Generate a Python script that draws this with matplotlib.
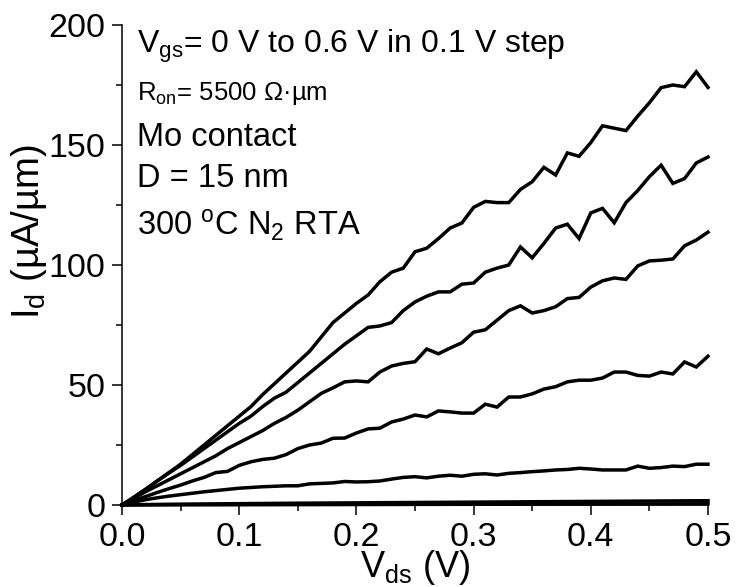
import matplotlib
matplotlib.use("Agg")
import matplotlib.pyplot as plt
from matplotlib.ticker import MultipleLocator

plt.rcParams['font.family'] = ['Liberation Sans', 'DejaVu Sans']
plt.rcParams['mathtext.fontset'] = 'custom'
plt.rcParams['mathtext.rm'] = 'Liberation Sans'
plt.rcParams['mathtext.it'] = 'Liberation Sans:italic'
plt.rcParams['mathtext.default'] = 'regular'

vds = [0.00, 0.01, 0.02, 0.03, 0.04, 0.05, 0.06, 0.07, 0.08, 0.09,
       0.10, 0.11, 0.12, 0.13, 0.14, 0.15, 0.16, 0.17, 0.18, 0.19,
       0.20, 0.21, 0.22, 0.23, 0.24, 0.25, 0.26, 0.27, 0.28, 0.29,
       0.30, 0.31, 0.32, 0.33, 0.34, 0.35, 0.36, 0.37, 0.38, 0.39,
       0.40, 0.41, 0.42, 0.43, 0.44, 0.45, 0.46, 0.47, 0.48, 0.49,
       0.50]

id_vg06 = [0, 3.2, 6.5, 10, 13.5, 17, 21, 25, 29, 33,
           37, 41, 46, 50.5, 55, 59.5, 64, 70, 76, 80,
           84, 87.5, 93, 97, 98.7, 105.5, 107, 111, 115.4, 117.5,
           124, 126.5, 126, 126, 131.5, 134.7, 140.7, 137.5, 146.7, 145.3,
           151, 158, 157, 156, 162, 167.6, 173.9, 175, 174.3, 180.5,
           174]

id_vg05 = [0, 3.2, 6.5, 10, 13.3, 16.5, 20, 23.5, 27, 30.5,
           34, 37, 41, 44.5, 47, 51, 55, 59, 63, 67,
           70.5, 74, 74.6, 76, 81, 84.6, 87, 88.8, 88.8, 92,
           92.5, 97, 98.7, 100, 107.5, 103, 109, 115.4, 117, 111,
           121.7, 123.6, 117.6, 126, 131, 136.8, 141.6, 134, 136, 142.5,
           145]

id_vg04 = [0, 2.8, 5.5, 8, 10.5, 13, 15.5, 18, 20.5, 23.5,
           26, 28.5, 31, 34, 36.5, 39.5, 43, 46.5, 48.8, 51.3,
           51.7, 51.3, 55.4, 57.9, 59, 59.7, 65, 63, 65.4, 67.6,
           72, 73, 77, 81, 83, 80, 81, 82.6, 86, 86.5,
           90.8, 93.4, 94.6, 94, 99.6, 101.7, 102, 102.5, 108, 110.4,
           113.7]

id_vg03 = [0, 1.8, 3.5, 5.2, 6.8, 8.3, 10, 11.5, 13.5, 14,
           16.5, 18, 19, 19.5, 21, 23.5, 25, 25.8, 27.8, 27.9,
           30, 31.7, 32, 34.6, 35.8, 37.5, 36.7, 39.2, 38.8, 38.3,
           38.3, 42, 40.8, 45, 45, 46.3, 48.3, 49.3, 51.3, 52,
           52, 52.9, 55.4, 55.4, 54, 53.7, 55.4, 54.6, 59.6, 57.5,
           62]

id_vg02 = [0, 1.2, 2.2, 3, 3.7, 4.3, 4.9, 5.5, 6, 6.5,
           7, 7.3, 7.6, 7.8, 8, 8, 8.8, 9, 9.2, 9.8,
           9.6, 9.7, 10, 10.8, 11.5, 11.8, 11.3, 12, 12.4, 12,
           12.8, 13, 12.5, 13.2, 13.5, 13.9, 14.2, 14.6, 14.8, 15.3,
           15, 14.6, 14.6, 14.6, 16.2, 15.3, 15.6, 16.2, 16, 17,
           17]

id_vg01 = [0, 0.1, 0.18, 0.25, 0.3, 0.35, 0.4, 0.44, 0.48, 0.52,
           0.56, 0.6, 0.64, 0.68, 0.72, 0.75, 0.78, 0.81, 0.84, 0.87,
           0.9, 0.93, 0.96, 0.99, 1.02, 1.05, 1.08, 1.11, 1.14, 1.17,
           1.2, 1.23, 1.26, 1.29, 1.32, 1.35, 1.38, 1.41, 1.44, 1.47,
           1.5, 1.53, 1.56, 1.59, 1.62, 1.65, 1.68, 1.71, 1.74, 1.77,
           1.8]

id_vg00 = [0, 0.01, 0.02, 0.03, 0.04, 0.05, 0.06, 0.07, 0.08, 0.09,
           0.1, 0.11, 0.12, 0.13, 0.14, 0.15, 0.16, 0.17, 0.18, 0.19,
           0.2, 0.21, 0.22, 0.23, 0.24, 0.25, 0.26, 0.27, 0.28, 0.29,
           0.3, 0.31, 0.32, 0.33, 0.34, 0.35, 0.36, 0.37, 0.38, 0.39,
           0.4, 0.41, 0.42, 0.43, 0.44, 0.45, 0.46, 0.47, 0.48, 0.49,
           0.5]

curves = [id_vg00, id_vg01, id_vg02, id_vg03, id_vg04, id_vg05, id_vg06]

x_ticks = [0.0, 0.1, 0.2, 0.3, 0.4, 0.5]
x_ticklabels = ['0.0', '0.1', '0.2', '0.3', '0.4', '0.5']
y_ticks = [0, 50, 100, 150, 200]
y_ticklabels = ['0', '50', '100', '150', '200']

annotations = [
    ("V$_{\\mathrm{gs}}$= 0 V to 0.6 V in 0.1 V step", 23),
    ("R$_{\\mathrm{on}}$= 5500 \u03a9\u00b7\u00b5m", 18.5),
    ("Mo contact", 23.5),
    ("D = 15 nm", 23.5),
    ("300 $^{\\mathrm{o}}$C N$_{2}$ RTA", 23.5),
]
annot_baselines = [53, 100, 146, 187, 235]  # pixel rows from top

W, H = 736, 587
fig = plt.figure(figsize=(W / 100, H / 100), dpi=100)
ax = fig.add_axes([122 / W, 1 - 505 / H, (708 - 122) / W, (505 - 25) / H])

for c in curves:
    ax.plot(vds, c, color='black', lw=2.5, solid_joinstyle='miter', clip_on=False)

ax.set_xlim(0, 0.5)
ax.set_ylim(0, 200)
ax.set_xticks(x_ticks)
ax.set_xticklabels(x_ticklabels)
ax.set_yticks(y_ticks)
ax.set_yticklabels(y_ticklabels)
ax.xaxis.set_minor_locator(MultipleLocator(0.05))
ax.yaxis.set_minor_locator(MultipleLocator(25))
ax.tick_params(which='major', direction='out', length=7, width=1.1, labelsize=24.5, pad=5)
ax.tick_params(which='minor', direction='out', length=4, width=1.1)
for s in ['top', 'right']:
    ax.spines[s].set_visible(False)
for s in ['left', 'bottom']:
    ax.spines[s].set_linewidth(1.1)

# axis titles placed at the reference positions
fig.text(415 / W, 1 - 577 / H, "V$_{\\mathrm{ds}}$ (V)", fontsize=26,
         ha='center', va='baseline')
fig.text(39 / W, 1 - 232 / H, "I$_{\\mathrm{d}}$ (\u00b5A/\u00b5m)", fontsize=27.5,
         rotation=90, rotation_mode='anchor', ha='center', va='baseline')

for (txt, fs), yb in zip(annotations, annot_baselines):
    fig.text(137 / W, 1 - yb / H, txt, fontsize=fs, ha='left', va='baseline')

fig.savefig("out.png", dpi=100)
